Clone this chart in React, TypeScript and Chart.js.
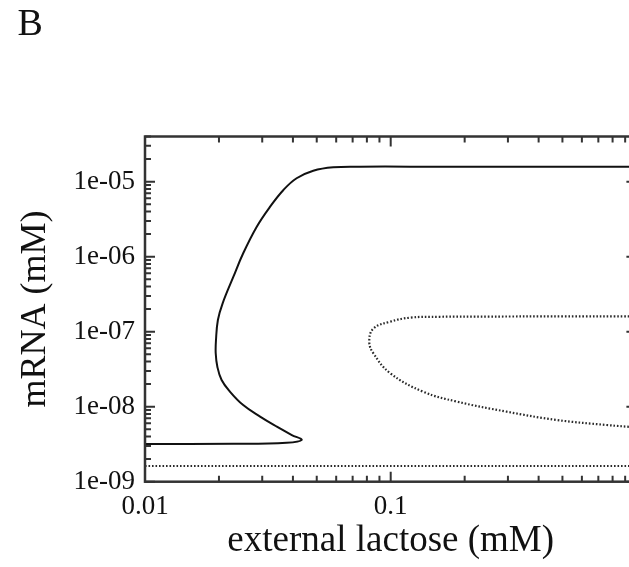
import React, { useEffect, useRef } from 'react';
import { Chart, registerables } from 'chart.js';

Chart.register(...registerables);

// ---- data ----
const panelLabel = 'B';
const xTitle = 'external lactose (mM)';
const yTitle = 'mRNA (mM)';

const xRange = [0.01, 1];
const yRange = [1e-9, 4e-5];

const xTicks = [0.01, 0.1];
const xTickLabels = ['0.01', '0.1'];
const yTicks = [1e-9, 1e-8, 1e-7, 1e-6, 1e-5];
const yTickLabels = ['1e-09', '1e-08', '1e-07', '1e-06', '1e-05'];

// stable branch (solid S-shaped curve)
const stableX = [0.01, 0.0229, 0.0377, 0.0434, 0.0396, 0.0344, 0.0294, 0.0251, 0.0222, 0.0205, 0.0197, 0.0194, 0.01945, 0.0198, 0.0207, 0.0229, 0.0251, 0.0285, 0.0323, 0.0366, 0.0414, 0.0484, 0.0584, 0.075, 0.12, 0.3, 1];
const stableY = [3.18e-9, 3.2e-9, 3.31e-9, 3.6e-9, 4.19e-9, 5.41e-9, 7.36e-9, 1.05e-8, 1.58e-8, 2.27e-8, 3.41e-8, 5.15e-8, 7.75e-8, 1.43e-7, 2.39e-7, 5.41e-7, 1.11e-6, 2.51e-6, 4.64e-6, 7.75e-6, 1.11e-5, 1.4e-5, 1.556e-5, 1.585e-5, 1.585e-5, 1.585e-5, 1.585e-5];

// unstable branch (dotted loop)
const loopX = [1, 0.5, 0.25, 0.158, 0.1205, 0.0996, 0.085, 0.0818, 0.085, 0.0996, 0.1358, 0.1856, 0.2966, 0.474, 0.757, 1];
const loopY = [1.6e-7, 1.6e-7, 1.59e-7, 1.58e-7, 1.54e-7, 1.36e-7, 1.1e-7, 7.36e-8, 5.15e-8, 2.79e-8, 1.58e-8, 1.17e-8, 8.58e-9, 6.65e-9, 5.7e-9, 5.3e-9];

// dotted baseline
const baseX = [0.01, 1];
const baseY = [1.62e-9, 1.62e-9];

const FONT = '"Liberation Serif", "Times New Roman", Times, serif';

const toPoints = (xs: number[], ys: number[]) => xs.map((x, i) => ({ x, y: ys[i] }));
const labelFor = (vals: number[], labels: string[], v: number) => {
  const i = vals.findIndex((t) => Math.abs(t - v) / t < 1e-6);
  return i >= 0 ? labels[i] : '';
};

const frameTicksPlugin = {
  id: 'frameTicks',
  afterDraw(chart: any) {
    const { ctx, chartArea } = chart;
    const { left, right, top, bottom } = chartArea;
    const xs = chart.scales.x;
    const ys = chart.scales.y;
    const logVals = (min: number, max: number) => {
      const out: { v: number; major: boolean }[] = [];
      for (let e = Math.floor(Math.log10(min)); e <= Math.ceil(Math.log10(max)); e++) {
        for (let k = 1; k < 10; k++) {
          const v = k * Math.pow(10, e);
          if (v >= min * 0.999999 && v <= max * 1.000001) out.push({ v, major: k === 1 });
        }
      }
      return out;
    };
    ctx.save();
    ctx.strokeStyle = '#333';
    ctx.lineWidth = 2;
    ctx.beginPath();
    for (const t of logVals(xs.min, xs.max)) {
      const px = xs.getPixelForValue(t.v);
      const len = t.major ? 10 : 6;
      ctx.moveTo(px, bottom);
      ctx.lineTo(px, bottom - len);
      ctx.moveTo(px, top);
      ctx.lineTo(px, top + len);
    }
    for (const t of logVals(ys.min, ys.max)) {
      const py = ys.getPixelForValue(t.v);
      const len = t.major ? 10 : 6;
      ctx.moveTo(left, py);
      ctx.lineTo(left + len, py);
      ctx.moveTo(right, py);
      ctx.lineTo(right - len, py);
    }
    ctx.stroke();
    ctx.lineWidth = 2.5;
    ctx.strokeRect(left, top, right - left, bottom - top);
    ctx.restore();
  },
};

export default function App() {
  const canvasRef = useRef<HTMLCanvasElement | null>(null);

  useEffect(() => {
    const canvas = canvasRef.current;
    if (!canvas) return;
    const chart = new Chart(canvas, {
      type: 'scatter',
      data: {
        datasets: [
          {
            data: toPoints(stableX, stableY),
            showLine: true,
            borderColor: '#111',
            borderWidth: 2,
            pointRadius: 0,
            tension: 0.4,
            fill: false,
          },
          {
            data: toPoints(loopX, loopY),
            showLine: true,
            borderColor: '#2a2a2a',
            borderWidth: 2.2,
            borderDash: [1.6, 1.9],
            pointRadius: 0,
            tension: 0.4,
            fill: false,
          },
          {
            data: toPoints(baseX, baseY),
            showLine: true,
            borderColor: '#2a2a2a',
            borderWidth: 2.2,
            borderDash: [1.6, 1.9],
            pointRadius: 0,
            tension: 0,
            fill: false,
          },
        ],
      },
      options: {
        responsive: false,
        animation: false,
        layout: { padding: { top: 136.5, right: 10.6, bottom: 0, left: 0 } },
        plugins: { legend: { display: false }, tooltip: { enabled: false } },
        scales: {
          x: {
            type: 'logarithmic',
            position: 'bottom',
            min: xRange[0],
            max: xRange[1],
            grid: { display: false, drawTicks: false },
            border: { display: false },
            afterBuildTicks: (s: any) => {
              s.ticks = xTicks.map((v) => ({ value: v }));
            },
            afterFit: (s: any) => {
              s.height = 85.3;
            },
            ticks: {
              autoSkip: false,
              maxRotation: 0,
              padding: 9,
              color: '#111',
              font: { family: FONT, size: 27 },
              callback: (v: any) => labelFor(xTicks, xTickLabels, Number(v)),
            },
            title: {
              display: true,
              text: xTitle,
              color: '#111',
              font: { family: FONT, size: 37 },
              padding: { top: 0, bottom: 4 },
            },
          },
          y: {
            type: 'logarithmic',
            position: 'left',
            min: yRange[0],
            max: yRange[1],
            grid: { display: false, drawTicks: false },
            border: { display: false },
            afterBuildTicks: (s: any) => {
              s.ticks = yTicks.map((v) => ({ value: v }));
            },
            afterFit: (s: any) => {
              s.width = 145;
            },
            ticks: {
              autoSkip: false,
              padding: 10,
              color: '#111',
              font: { family: FONT, size: 27 },
              callback: (v: any) => labelFor(yTicks, yTickLabels, Number(v)),
            },
            title: {
              display: true,
              text: yTitle,
              color: '#111',
              font: { family: FONT, size: 36 },
              padding: { top: 14.4, bottom: 0 },
            },
          },
        },
      },
      plugins: [frameTicksPlugin],
    } as any);
    return () => chart.destroy();
  }, []);

  return (
    <div
      style={{
        position: 'fixed',
        left: 0,
        top: 0,
        width: 629,
        height: 567,
        overflow: 'hidden',
        background: '#fff',
      }}
    >
      <canvas ref={canvasRef} width={647} height={567} style={{ display: 'block', position: 'absolute', left: 0, top: 0 }} />
      <div
        style={{
          position: 'absolute',
          left: 17.5,
          top: 3.3,
          fontFamily: FONT,
          fontSize: 38,
          lineHeight: '38px',
          color: '#111',
        }}
      >
        {panelLabel}
      </div>
    </div>
  );
}
